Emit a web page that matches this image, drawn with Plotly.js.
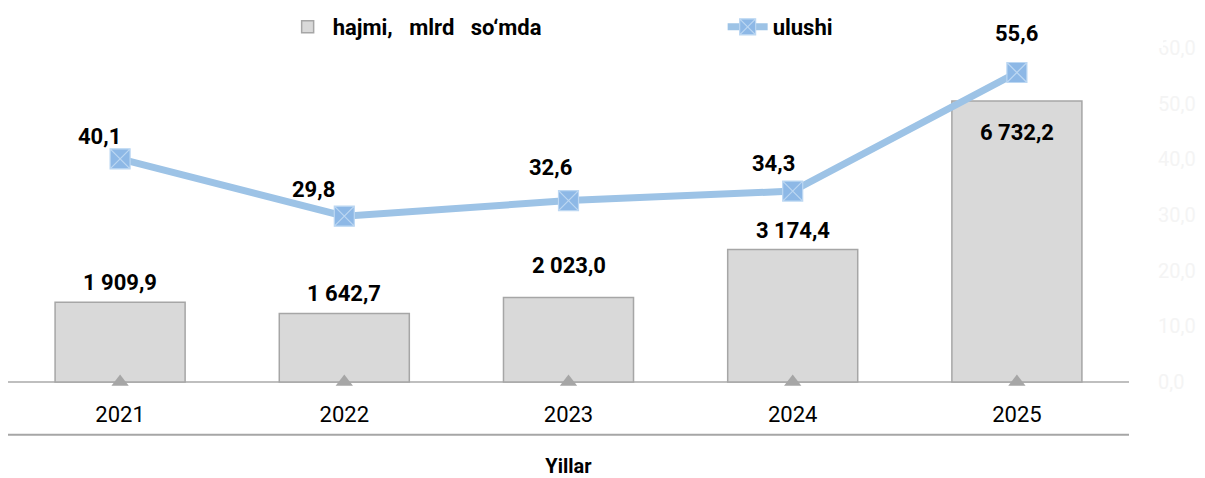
<!DOCTYPE html>
<html>
<head>
<meta charset="utf-8">
<script src="https://cdn.plot.ly/plotly-3.0.1.min.js"></script>
<style>html,body{margin:0;padding:0;background:#fff;}#chart{width:1205px;height:478px;}</style>
</head>
<body>
<div id="chart"></div>
<script>
// ---- data ----
const years = [2021, 2022, 2023, 2024, 2025];
const hajmi = [1909.9, 1642.7, 2023.0, 3174.4, 6732.2];   // mlrd so'm
const ulushi = [40.1, 29.8, 32.6, 34.3, 55.6];            // %
const baseMarks = [0, 0, 0, 0, 0];
const rightTicks = [0, 10, 20, 30, 40, 50, 60];
const barName = 'hajmi,\u00a0\u00a0 mlrd\u00a0\u00a0 so\u2018mda';
const lineName = 'ulushi';
const axisTitle = 'Yillar';

// ---- axis extents & label placement (style config) ----
const leftMax = 8000, rightMax = 60;
const valueHeightPx = 337, belowPadPx = 10;
const barLabelShift = [20, 20, 32, 19, -32];
const lineLabelShiftX = [-21, -31, -18, -19, 0];
const lineLabelShiftY = [22, 27, 33, 28, 39];

function fmt(v) {
  const s = v.toFixed(1).split('.');
  const intPart = s[0].replace(/\B(?=(\d{3})+(?!\d))/g, ' ');
  return intPart + ',' + s[1];
}

const labelFont = {family: 'Roboto, sans-serif', size: 22, color: '#000', weight: 'bold'};

const annotations = [];
years.forEach((yr, i) => {
  annotations.push({
    x: yr, y: hajmi[i], xref: 'x', yref: 'y', text: fmt(hajmi[i]),
    showarrow: false, yanchor: 'middle', xanchor: 'center', yshift: barLabelShift[i], font: labelFont
  });
  annotations.push({
    x: yr, y: ulushi[i], xref: 'x', yref: 'y2', text: fmt(ulushi[i]),
    showarrow: false, yanchor: 'middle', xanchor: 'center',
    xshift: lineLabelShiftX[i], yshift: lineLabelShiftY[i], font: labelFont
  });
});

const traces = [
  {
    type: 'bar', x: years, y: hajmi, name: barName, yaxis: 'y',
    marker: {color: '#d9d9d9', line: {color: '#a6a6a6', width: 1.5}},
    hoverinfo: 'skip'
  },
  {
    type: 'scatter', mode: 'lines+markers', x: years, y: ulushi, name: lineName, yaxis: 'y2',
    line: {color: '#9dc3e6', width: 7},
    marker: {symbol: 'square-x', size: 20, color: '#8db8e6', line: {color: '#bcd7f2', width: 1.2}},
    hoverinfo: 'skip'
  },
  {
    type: 'scatter', mode: 'markers', x: years, y: baseMarks, yaxis: 'y2', showlegend: false,
    marker: {symbol: 'triangle-up', size: 15, color: '#a6a6a6'},
    hoverinfo: 'skip', cliponaxis: false
  }
];

const padFrac = belowPadPx / valueHeightPx;

const layout = {
  width: 1205, height: 478,
  margin: {l: 8, r: 76, t: 45, b: 86},
  paper_bgcolor: '#fff', plot_bgcolor: '#fff',
  font: {family: 'Roboto, sans-serif', color: '#000'},
  bargap: 0.42,
  showlegend: true,
  legend: {
    orientation: 'h', x: 0.245, xanchor: 'left',
    yref: 'container', y: 1 - 27 / 478, yanchor: 'middle',
    font: {family: 'Roboto, sans-serif', size: 22, weight: 'bold', color: '#000'},
    entrywidth: 385, entrywidthmode: 'pixels', itemwidth: 40, traceorder: 'normal'
  },
  xaxis: {
    type: 'linear', range: [years[0] - 0.5, years[years.length - 1] + 0.5],
    tickvals: years, ticktext: years.map(String),
    showgrid: false, zeroline: false, showline: false,
    ticks: '', ticklabelstandoff: 7,
    tickfont: {family: 'Roboto, sans-serif', size: 22, color: '#000'},
    title: {text: axisTitle, standoff: 33, font: {family: 'Roboto, sans-serif', size: 20, weight: 'bold', color: '#000'}},
    automargin: false, fixedrange: true
  },
  yaxis: {
    range: [-leftMax * padFrac, leftMax], fixedrange: true,
    showticklabels: false, ticks: '', showgrid: false, showline: false,
    zeroline: true, zerolinecolor: '#bfbfbf', zerolinewidth: 1.5
  },
  yaxis2: {
    overlaying: 'y', side: 'right', range: [-rightMax * padFrac, rightMax],
    tickvals: rightTicks, ticktext: rightTicks.map(fmt),
    showgrid: false, zeroline: false, showline: false, ticks: '',
    ticklabelstandoff: 28,
    tickfont: {family: 'Roboto, sans-serif', size: 20, color: '#f4f4f4'},
    automargin: false, fixedrange: true
  },
  shapes: [{
    type: 'line', xref: 'paper', yref: 'paper', x0: 0, x1: 1,
    y0: -(435 - 392) / 347, y1: -(435 - 392) / 347,
    line: {color: '#a6a6a6', width: 2}
  }],
  annotations: annotations
};

Plotly.newPlot('chart', traces, layout, {staticPlot: true, displayModeBar: false});
</script>
</body>
</html>
